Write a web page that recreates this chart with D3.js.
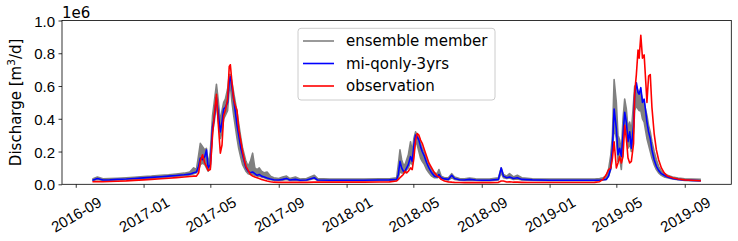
<!DOCTYPE html>
<html>
<head>
<meta charset="utf-8">
<script src="https://cdn.jsdelivr.net/npm/d3@7"></script>
<style>
  html, body { margin: 0; padding: 0; background: #fff; }
  svg { display: block; font-family: "DejaVu Sans", sans-serif; }
  .tick-label { font-size: 15px; fill: #000; }
</style>
</head>
<body>
<div id="chart"></div>
<script>
// Daily discharge, values in units of 1e6 m3/d
const dates = [
  "2016-10-01","2016-10-10","2016-10-20","2016-11-01","2016-11-15","2016-12-01","2016-12-15",
  "2017-01-01","2017-01-15","2017-02-01","2017-02-15","2017-03-01","2017-03-15","2017-03-25",
  "2017-04-01","2017-04-06","2017-04-10","2017-04-13","2017-04-17","2017-04-21","2017-04-24","2017-04-27",
  "2017-05-01","2017-05-05","2017-05-08","2017-05-12","2017-05-15","2017-05-19","2017-05-22","2017-05-25","2017-05-28",
  "2017-06-01","2017-06-04","2017-06-06","2017-06-09","2017-06-12","2017-06-15","2017-06-18","2017-06-21","2017-06-25","2017-06-28",
  "2017-07-01","2017-07-04","2017-07-08","2017-07-12","2017-07-16","2017-07-20","2017-07-24","2017-07-28",
  "2017-08-01","2017-08-06","2017-08-11","2017-08-17","2017-08-23",
  "2017-09-01","2017-09-08","2017-09-15","2017-09-21","2017-10-01","2017-10-09","2017-10-21",
  "2017-11-04","2017-11-10","2017-12-01","2018-01-01","2018-02-01","2018-03-01","2018-03-19",
  "2018-04-01","2018-04-04","2018-04-07","2018-04-10","2018-04-13","2018-04-16","2018-04-19","2018-04-22","2018-04-26","2018-04-29",
  "2018-05-02","2018-05-05","2018-05-08","2018-05-11","2018-05-14","2018-05-17","2018-05-21","2018-05-25","2018-05-29",
  "2018-06-03","2018-06-08","2018-06-13","2018-06-16","2018-06-20","2018-06-26",
  "2018-07-03","2018-07-09","2018-07-14","2018-07-23","2018-08-01","2018-08-10","2018-08-21",
  "2018-09-01","2018-09-15","2018-10-01","2018-10-06","2018-10-10","2018-10-16","2018-10-21","2018-10-28",
  "2018-11-04","2018-11-12","2018-12-01","2019-01-01","2019-02-01","2019-03-01","2019-03-23",
  "2019-04-01","2019-04-07","2019-04-13","2019-04-17","2019-04-21","2019-04-24","2019-04-27",
  "2019-05-01","2019-05-04","2019-05-07","2019-05-10","2019-05-13","2019-05-16","2019-05-19","2019-05-22","2019-05-25","2019-05-28",
  "2019-06-01","2019-06-03","2019-06-06","2019-06-09","2019-06-11","2019-06-14","2019-06-17","2019-06-20","2019-06-23","2019-06-25","2019-06-28",
  "2019-07-01","2019-07-04","2019-07-08","2019-07-12","2019-07-16","2019-07-21","2019-07-26",
  "2019-08-01","2019-08-10","2019-08-20","2019-09-01","2019-09-13","2019-09-30"
];

const observation = [
  .016,.017,.016,.017,.019,.021,.024,
  .027,.030,.034,.037,.041,.045,.048,
  .050,.050,.070,.140,.180,.130,.110,.085,
  .090,.300,.420,.550,.380,.190,.240,.420,.450,
  .520,.720,.730,.620,.520,.480,.450,.340,.260,.200,
  .150,.110,.085,.060,.050,.045,.040,.035,
  .030,.025,.020,.016,.013,
  .012,.012,.012,.012,.012,.012,.012,
  .013,.013,.013,.013,.013,.014,.015,
  .020,.030,.040,.050,.060,.080,.070,.080,.100,.090,
  .160,.270,.310,.300,.270,.250,.210,.170,.130,
  .100,.070,.050,.045,.030,.020,
  .015,.013,.012,.011,.010,.010,.010,
  .010,.010,.012,.020,.020,.014,.016,.013,
  .013,.012,.011,.011,.011,.011,.012,
  .016,.030,.060,.090,.100,.160,.260,
  .100,.130,.170,.130,.170,.360,.280,.160,.130,.140,
  .250,.560,.670,.820,.770,.910,.770,.790,.620,.500,.660,
  .670,.470,.310,.210,.150,.100,.070,
  .050,.040,.032,.027,.025,.022
];

const miQonly3yrs = [
  .025,.035,.026,.027,.030,.032,.035,
  .039,.042,.046,.050,.054,.058,.062,
  .070,.075,.110,.160,.150,.170,.210,.100,
  .120,.350,.400,.530,.440,.320,.380,.460,.470,
  .500,.630,.657,.590,.520,.440,.360,.300,.220,.180,
  .140,.100,.080,.070,.075,.065,.055,.060,
  .050,.045,.038,.032,.028,
  .026,.030,.036,.026,.030,.025,.026,
  .040,.026,.025,.025,.025,.026,.027,
  .030,.060,.140,.100,.080,.080,.100,.120,.170,.140,
  .240,.300,.290,.270,.230,.200,.170,.130,.100,
  .070,.050,.045,.060,.040,.033,
  .030,.055,.035,.028,.026,.030,.026,
  .025,.025,.030,.100,.050,.040,.045,.035,
  .040,.030,.027,.025,.025,.025,.025,
  .025,.028,.030,.050,.100,.220,.460,
  .340,.180,.220,.170,.300,.440,.380,.260,.320,.220,
  .360,.550,.620,.560,.550,.590,.500,.520,.440,.380,.320,
  .280,.210,.150,.110,.085,.065,.055,
  .045,.035,.030,.026,.024,.022
];

// spread of the ensemble members (lower and upper member)
const ensembleMin = [
  .022,.030,.023,.024,.026,.028,.030,
  .034,.037,.041,.045,.049,.053,.057,
  .065,.070,.090,.120,.130,.120,.100,.080,
  .100,.320,.380,.500,.400,.280,.320,.400,.420,
  .450,.580,.600,.500,.420,.350,.280,.220,.160,.120,
  .100,.080,.065,.060,.060,.055,.050,.050,
  .045,.040,.033,.028,.025,
  .023,.025,.030,.023,.025,.022,.023,
  .035,.023,.022,.022,.022,.023,.024,
  .027,.040,.080,.070,.070,.070,.090,.100,.140,.120,
  .200,.260,.240,.200,.160,.140,.120,.090,.070,
  .050,.040,.040,.045,.035,.030,
  .026,.040,.030,.025,.023,.025,.023,
  .022,.022,.027,.070,.040,.035,.038,.030,
  .032,.026,.024,.022,.022,.022,.022,
  .024,.026,.030,.050,.090,.200,.350,
  .280,.140,.160,.090,.250,.380,.300,.220,.250,.200,
  .320,.450,.480,.460,.450,.450,.400,.380,.320,.280,.240,
  .200,.160,.120,.090,.070,.055,.045,
  .040,.032,.028,.024,.022,.020
];

const ensembleMax = [
  .032,.045,.034,.035,.037,.040,.043,
  .047,.050,.055,.058,.063,.068,.075,
  .100,.090,.180,.250,.230,.210,.220,.120,
  .200,.420,.500,.610,.520,.380,.450,.500,.520,
  .580,.670,.670,.620,.560,.500,.440,.370,.280,.220,
  .180,.140,.110,.140,.190,.100,.090,.100,
  .080,.070,.075,.050,.040,
  .035,.045,.050,.035,.045,.032,.035,
  .055,.035,.032,.032,.032,.033,.034,
  .040,.120,.210,.150,.120,.120,.150,.180,.260,.200,
  .280,.320,.300,.280,.250,.220,.190,.150,.120,
  .090,.070,.065,.090,.050,.040,
  .040,.065,.045,.035,.033,.038,.033,
  .032,.032,.040,.100,.060,.050,.065,.045,
  .055,.040,.034,.032,.032,.032,.032,
  .035,.040,.050,.090,.180,.300,.640,
  .500,.300,.270,.200,.400,.520,.460,.340,.380,.320,
  .500,.600,.600,.570,.560,.560,.520,.500,.450,.420,.360,
  .320,.260,.200,.150,.110,.080,.065,
  .055,.045,.038,.034,.032,.030
];

const yTicks = [0, 0.2, 0.4, 0.6, 0.8, 1.0];
const legendLabels = ["ensemble member", "mi-qonly-3yrs", "observation"];
const legendColors = ["#808080", "#0000ff", "#ff0000"];

const W = 738, H = 241;
const margin = { top: 20.5, right: 6.7, bottom: 56.7, left: 62 };

const parse = d3.timeParse("%Y-%m-%d");
const rows = dates.map((d, i) => ({
  date: parse(d),
  obs: observation[i],
  mi: miQonly3yrs[i],
  lo: ensembleMin[i],
  hi: ensembleMax[i]
}));

const svg = d3.select("#chart").append("svg")
  .attr("width", W)
  .attr("height", H);

// matplotlib-like 5% margins on the time axis
const ext = d3.extent(rows, d => d.date);
const pad = (ext[1] - ext[0]) * 0.05;
const x = d3.scaleTime()
  .domain([new Date(+ext[0] - pad), new Date(+ext[1] + pad)])
  .range([margin.left, W - margin.right]);

const y = d3.scaleLinear()
  .domain([0, 1])
  .range([H - margin.bottom, margin.top]);

const plot = svg.append("g");
plot.append("clipPath").attr("id", "clip")
  .append("rect")
  .attr("x", margin.left).attr("y", margin.top)
  .attr("width", W - margin.left - margin.right)
  .attr("height", H - margin.top - margin.bottom);

const g = plot.append("g").attr("clip-path", "url(#clip)");

// ensemble members
g.append("path")
  .datum(rows)
  .attr("fill", "#808080")
  .attr("d", d3.area().x(d => x(d.date)).y0(d => y(d.lo)).y1(d => y(d.hi)));
["lo", "hi"].forEach(k => {
  g.append("path")
    .datum(rows)
    .attr("fill", "none")
    .attr("stroke", "#808080")
    .attr("stroke-width", 1.6)
    .attr("stroke-linejoin", "round")
    .attr("d", d3.line().x(d => x(d.date)).y(d => y(d[k])));
});

g.append("path")
  .datum(rows)
  .attr("fill", "none")
  .attr("stroke", "#0000ff")
  .attr("stroke-width", 1.6)
  .attr("stroke-linejoin", "round")
  .attr("d", d3.line().x(d => x(d.date)).y(d => y(d.mi)));

g.append("path")
  .datum(rows)
  .attr("fill", "none")
  .attr("stroke", "#ff0000")
  .attr("stroke-width", 1.6)
  .attr("stroke-linejoin", "round")
  .attr("d", d3.line().x(d => x(d.date)).y(d => y(d.obs)));

// axes
const xAxis = d3.axisBottom(x)
  .ticks(d3.timeMonth.every(4))
  .tickFormat(d3.timeFormat("%Y-%m"))
  .tickSize(3.5)
  .tickSizeOuter(0);
const gx = svg.append("g")
  .attr("transform", `translate(0,${H - margin.bottom})`)
  .call(xAxis);
gx.select(".domain").remove();
gx.selectAll(".tick line").attr("stroke", "#000").attr("stroke-width", 0.8);
gx.selectAll(".tick text")
  .attr("class", "tick-label")
  .attr("font-family", null)
  .attr("font-size", null)
  .attr("y", 0).attr("dy", null)
  .attr("text-anchor", "middle")
  .attr("dominant-baseline", "central")
  .attr("transform", "translate(0,30) rotate(-30)");

const yAxis = d3.axisLeft(y)
  .tickValues(yTicks)
  .tickFormat(d3.format(".1f"))
  .tickSize(3.5)
  .tickSizeOuter(0);
const gy = svg.append("g")
  .attr("transform", `translate(${margin.left},0)`)
  .call(yAxis);
gy.select(".domain").remove();
gy.selectAll(".tick line").attr("stroke", "#000").attr("stroke-width", 0.8);
gy.selectAll(".tick text")
  .attr("class", "tick-label")
  .attr("font-family", null)
  .attr("font-size", null)
  .attr("x", -7).attr("dy", null)
  .attr("dominant-baseline", "central");

// frame
svg.append("rect")
  .attr("x", margin.left).attr("y", margin.top)
  .attr("width", W - margin.left - margin.right)
  .attr("height", H - margin.top - margin.bottom)
  .attr("fill", "none")
  .attr("stroke", "#000")
  .attr("stroke-width", 0.8);

// offset text and y label
svg.append("text")
  .attr("x", margin.left).attr("y", 17.5)
  .attr("font-size", 15)
  .text("1e6");

const ylab = svg.append("text")
  .attr("transform", `translate(20.5,${(margin.top + H - margin.bottom) / 2}) rotate(-90)`)
  .attr("text-anchor", "middle")
  .attr("font-size", 15);
ylab.append("tspan").text("Discharge [m");
ylab.append("tspan").attr("font-size", 10.5).attr("dy", -6).text("3");
ylab.append("tspan").attr("dy", 6).text("/d]");

// legend
const leg = svg.append("g");
leg.append("rect")
  .attr("x", 298).attr("y", 28.3)
  .attr("width", 197).attr("height", 71.7)
  .attr("rx", 3)
  .attr("fill", "#fff").attr("fill-opacity", 0.8)
  .attr("stroke", "#cccccc").attr("stroke-width", 1);
legendLabels.forEach((lab, i) => {
  const cy = 41 + i * 22.5;
  leg.append("line")
    .attr("x1", 303).attr("x2", 334)
    .attr("y1", cy).attr("y2", cy)
    .attr("stroke", legendColors[i]).attr("stroke-width", 1.6);
  leg.append("text")
    .attr("x", 346).attr("y", cy)
    .attr("dominant-baseline", "central")
    .attr("font-size", 15)
    .text(lab);
});
</script>
</body>
</html>
